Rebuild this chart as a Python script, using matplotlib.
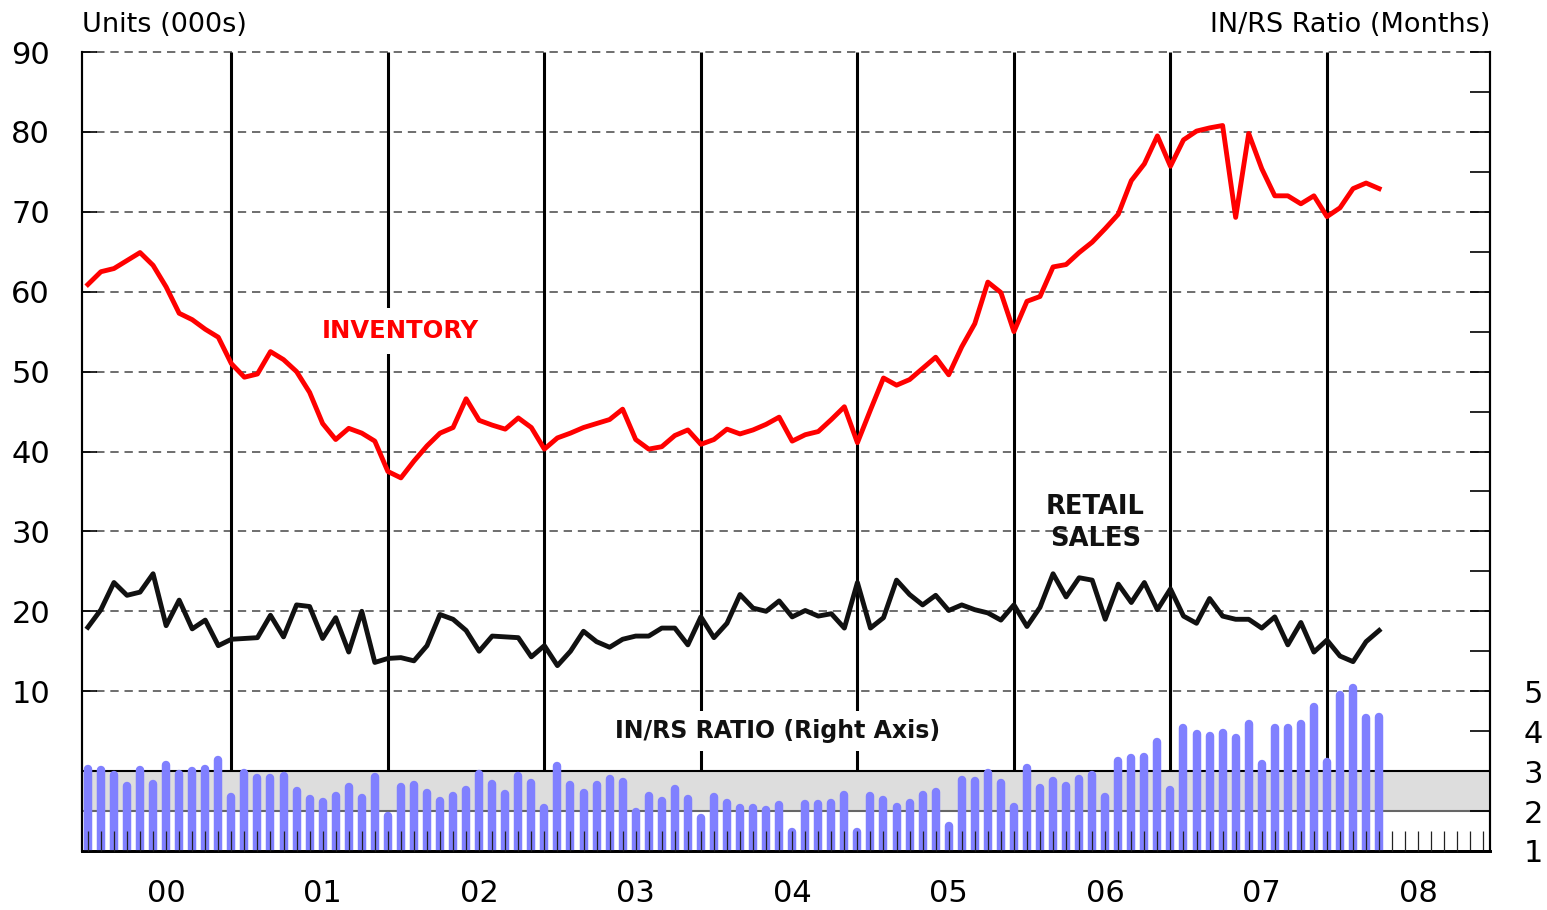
import numpy as np
import matplotlib.pyplot as plt

# monthly values, Jan 2000 - Apr 2008
inventory = [60.9, 62.5, 62.9, 63.9, 64.9, 63.3, 60.6, 57.3, 56.5, 55.3,
             54.3, 51.0, 49.3, 49.7, 52.5, 51.5, 50.0, 47.4, 43.5, 41.5,
             42.9, 42.3, 41.3, 37.5, 36.7, 38.8, 40.7, 42.3, 43.0, 46.6,
             43.9, 43.3, 42.8, 44.2, 43.0, 40.3, 41.7, 42.3, 43.0, 43.5,
             44.0, 45.3, 41.5, 40.3, 40.6, 42.0, 42.7, 40.9, 41.5, 42.8,
             42.2, 42.7, 43.4, 44.3, 41.3, 42.1, 42.5, 44.0, 45.6, 41.1,
             45.2, 49.2, 48.3, 49.0, 50.4, 51.8, 49.6, 53.1, 56.0, 61.2,
             59.9, 55.0, 58.8, 59.4, 63.1, 63.4, 64.9, 66.2, 67.9, 69.7,
             73.9, 76.0, 79.5, 75.7, 79.0, 80.1, 80.5, 80.8, 69.3, 79.8,
             75.4, 72.0, 72.0, 71.0, 72.0, 69.4, 70.5, 72.9, 73.6, 72.9]

retail_sales = [18.0, 20.2, 23.6, 22.0, 22.4, 24.7, 18.2, 21.4, 17.8, 18.9,
                15.7, 16.5, 16.6, 16.7, 19.5, 16.8, 20.8, 20.6, 16.6, 19.2,
                14.9, 20.0, 13.6, 14.1, 14.2, 13.8, 15.7, 19.6, 19.0, 17.6,
                15.0, 16.9, 16.8, 16.7, 14.3, 15.7, 13.2, 15.0, 17.5, 16.2,
                15.5, 16.5, 16.9, 16.9, 17.9, 17.9, 15.8, 19.3, 16.7, 18.5,
                22.1, 20.4, 20.0, 21.3, 19.3, 20.1, 19.4, 19.7, 17.9, 23.6,
                17.9, 19.2, 23.9, 22.1, 20.8, 22.0, 20.1, 20.8, 20.2, 19.8,
                18.9, 20.8, 18.1, 20.5, 24.7, 21.8, 24.2, 23.9, 19.0, 23.4,
                21.1, 23.6, 20.2, 22.8, 19.4, 18.5, 21.6, 19.4, 19.0, 19.0,
                17.9, 19.3, 15.8, 18.6, 14.9, 16.4, 14.4, 13.7, 16.2, 17.6]

in_rs_ratio = [3.05, 3.03, 2.91, 2.62, 3.03, 2.68, 3.15, 2.93, 2.99, 3.05,
               3.28, 2.34, 2.95, 2.83, 2.83, 2.88, 2.51, 2.30, 2.23, 2.37,
               2.59, 2.32, 2.86, 1.87, 2.59, 2.66, 2.45, 2.26, 2.37, 2.53,
               2.93, 2.68, 2.43, 2.88, 2.70, 2.07, 3.12, 2.66, 2.45, 2.66,
               2.80, 2.73, 1.98, 2.38, 2.26, 2.54, 2.30, 1.82, 2.36, 2.20,
               2.07, 2.07, 2.03, 2.16, 1.48, 2.18, 2.18, 2.20, 2.40, 1.47,
               2.38, 2.28, 2.09, 2.20, 2.41, 2.47, 1.62, 2.78, 2.76, 2.94,
               2.69, 2.09, 3.08, 2.58, 2.76, 2.63, 2.80, 2.90, 2.36, 3.26,
               3.33, 3.36, 3.72, 2.53, 4.07, 3.93, 3.88, 3.95, 3.82, 4.18,
               3.19, 4.08, 4.09, 4.18, 4.61, 3.22, 4.90, 5.08, 4.32, 4.36]

year_labels = ['00', '01', '02', '03', '04', '05', '06', '07', '08']
left_ticks = [10, 20, 30, 40, 50, 60, 70, 80, 90]
right_labels = ['1', '2', '3', '4', '5']

months = np.arange(len(inventory))
all_months = np.arange(12 * len(year_labels))

plt.rcParams['font.family'] = 'DejaVu Sans'

fig = plt.figure(figsize=(15.47, 9.10), dpi=100)
ax = fig.add_axes([82 / 1547, 1 - 851 / 910, 1408 / 1547, 799 / 910])
ax2 = ax.twinx()

ax.set_xlim(-0.45, 107.5)
ax.set_ylim(-10, 90)
ax2.set_ylim(1, 21)

# dashed horizontal grid
ax.set_yticks(left_ticks)
ax.grid(axis='y', color='#555555', lw=1.2, ls=(0, (5, 3.5)))
for gl in ax.get_ygridlines():
    gl.set_clip_on(False)

# December markers
ax.vlines(months[11::12], 0, 90, color='black', lw=2.2, zorder=2)

ax.plot(months, inventory, color='#ff0000', lw=3.5, zorder=4)
ax.plot(months, retail_sales, color='#111111', lw=3.5, zorder=4)

# ratio bars on right axis
ax2.axhspan(2, 3, color='#dddddd', lw=0, zorder=0)
ax2.axhline(2, color='#666666', lw=1.5, zorder=1)
ax2.axhline(3, color='black', lw=1.5, zorder=1)
ax2.vlines(months, 1, in_rs_ratio, color='#8080ff', lw=6.1,
           capstyle='round', zorder=2.2)

# x axis lives on ax2 so month ticks sit above the bars
ax2.set_axisbelow(False)
ax2.xaxis.set_visible(True)
ax2.xaxis.remove_overlapping_locs = False
ax.tick_params(axis='x', which='both', bottom=False, labelbottom=False)
ax2.set_xticks(np.arange(6, 108, 12))
ax2.set_xticklabels(year_labels)
ax2.set_xticks(all_months, minor=True)
ax2.tick_params(axis='x', which='major', length=0, pad=20, labelsize=22)
ax2.tick_params(axis='x', which='minor', direction='in', length=14.5,
                width=0.9, color='#222222')

ax.tick_params(axis='y', direction='in', length=11, width=1.2, pad=23,
               labelsize=22)
ax2.set_yticks(np.arange(1, 22))
ax2.set_yticklabels(right_labels + [''] * 16)
ax2.tick_params(axis='y', direction='in', length=14.5, width=1.2, pad=24,
                labelsize=22)

for a in (ax, ax2):
    a.spines['top'].set_visible(False)
    a.spines['left'].set_linewidth(1.5)
    a.spines['right'].set_linewidth(1.5)
    a.spines['bottom'].set_linewidth(2)

ax.text(23.95, 55.1, 'INVENTORY', color='#ff0000', fontsize=17.5,
        fontweight='bold', ha='center', va='center', zorder=5,
        bbox=dict(facecolor='white', edgecolor='none', pad=8))
ax.text(77.25, 31, 'RETAIL\nSALES', color='#111111', fontsize=18.5,
        fontweight='bold', ha='center', va='center', linespacing=1.3,
        zorder=5)
ax.text(52.9, 5.0, 'IN/RS RATIO (Right Axis)', color='#111111',
        fontsize=17, fontweight='bold', ha='center', va='center', zorder=5,
        bbox=dict(facecolor='white', edgecolor='none', pad=6))

ax.text(0, 1.034, 'Units (000s)', transform=ax.transAxes, ha='left',
        va='center', fontsize=19.5)
ax.text(1, 1.034, 'IN/RS Ratio (Months)', transform=ax.transAxes,
        ha='right', va='center', fontsize=19.5)

fig.savefig('out.png', dpi=100)
